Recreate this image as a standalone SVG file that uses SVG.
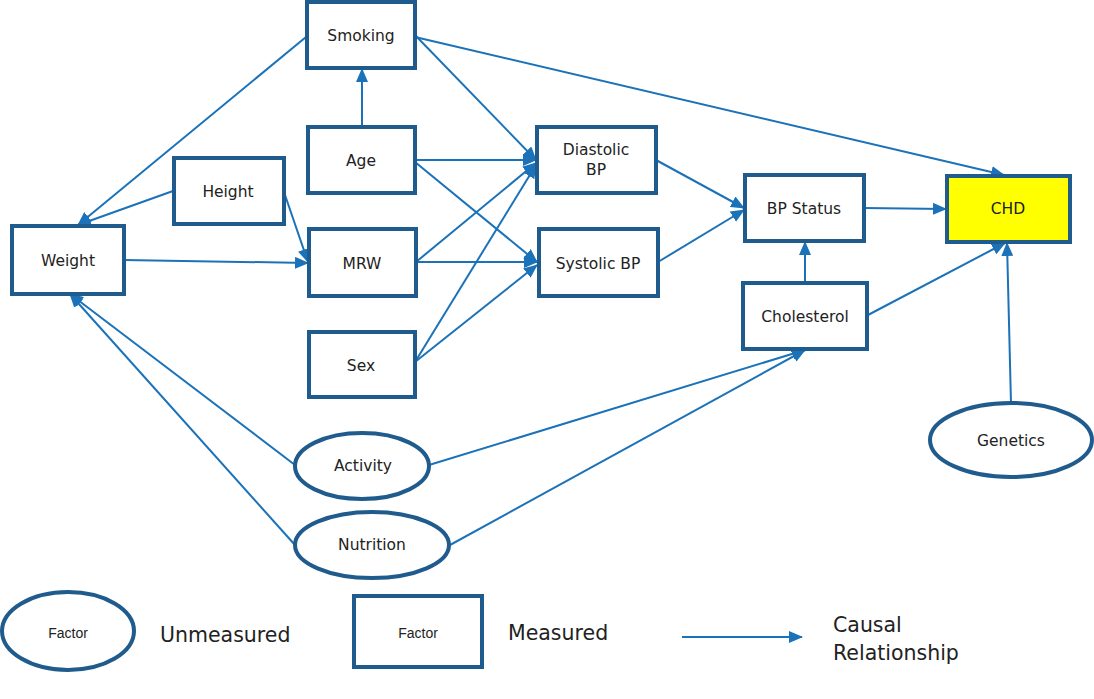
<svg xmlns="http://www.w3.org/2000/svg" width="1094" height="699" viewBox="0 0 1094 699">
<defs>
<marker id="ah" markerUnits="userSpaceOnUse" markerWidth="14" markerHeight="12" refX="13" refY="6" orient="auto">
<path d="M0,0 L14,6 L0,12 Z" fill="#1B72B8"/>
</marker>
<style>
.n{fill:#fff;stroke:#1F5B8C;stroke-width:4}
.e{fill:#fff;stroke:#1F5B8C;stroke-width:4}
.c{stroke:#1B72B8;stroke-width:2;fill:none;marker-end:url(#ah)}
.t{font-family:"DejaVu Sans","Liberation Sans",Arial,sans-serif;font-size:15.5px;fill:#222;text-anchor:middle;dominant-baseline:central}
.lg{font-family:"DejaVu Sans","Liberation Sans",Arial,sans-serif;font-size:20.5px;fill:#222}
.f{font-family:"Liberation Sans",Arial,sans-serif;font-size:14px;fill:#222;text-anchor:middle;dominant-baseline:central}
</style>
</defs>
<rect width="1094" height="699" fill="#fff"/>
<g id="connectors">
<path class="c" d="M306,37 L78,225"/>
<path class="c" d="M173,191 L78,225"/>
<path class="c" d="M124,260 L308,263"/>
<path class="c" d="M285,195 L308,262"/>
<path class="c" d="M362,127 L362,69"/>
<path class="c" d="M415,35 L536,160"/>
<path class="c" d="M415,37 L1004,175"/>
<path class="c" d="M415,160 L536,160"/>
<path class="c" d="M415,162 L537,262"/>
<path class="c" d="M416,262 L536,163"/>
<path class="c" d="M416,262 L537,262"/>
<path class="c" d="M415,362 L536,165"/>
<path class="c" d="M415,362 L537,265"/>
<path class="c" d="M656,160 L744,208"/>
<path class="c" d="M658,262 L744,210"/>
<path class="c" d="M864,208 L946,209"/>
<path class="c" d="M805,283 L805,242"/>
<path class="c" d="M868,315 L1005,243"/>
<path class="c" d="M1011,403 L1007,243"/>
<path class="c" d="M295,465 L70,294"/>
<path class="c" d="M295,545 L70,294"/>
<path class="c" d="M429,465 L805,350"/>
<path class="c" d="M450,545 L805,350"/>
</g>
<g id="smoking"><rect class="n" x="307" y="2" width="108" height="66"/><text class="t" x="361" y="36">Smoking</text></g>
<g id="age"><rect class="n" x="308" y="127" width="107" height="66"/><text class="t" x="361" y="161">Age</text></g>
<g id="height"><rect class="n" x="174" y="158" width="110" height="66"/><text class="t" x="228" y="192">Height</text></g>
<g id="weight"><rect class="n" x="12" y="226" width="112" height="68"/><text class="t" x="68" y="261">Weight</text></g>
<g id="mrw"><rect class="n" x="309" y="229" width="107" height="67"/><text class="t" x="362" y="264">MRW</text></g>
<g id="sex"><rect class="n" x="309" y="332" width="106" height="65"/><text class="t" x="361" y="366">Sex</text></g>
<g id="diastolic"><rect class="n" x="537" y="127" width="119" height="66"/><text class="t" x="596" y="150">Diastolic</text><text class="t" x="596" y="170">BP</text></g>
<g id="systolic"><rect class="n" x="539" y="229" width="119" height="67"/><text class="t" x="598" y="264">Systolic BP</text></g>
<g id="bpstatus"><rect class="n" x="745" y="175" width="119" height="66"/><text class="t" x="804" y="209">BP Status</text></g>
<g id="chd"><rect class="n" x="947" y="176" width="123" height="66" style="fill:#FFFF00"/><text class="t" x="1008" y="209">CHD</text></g>
<g id="cholesterol"><rect class="n" x="743" y="283" width="124" height="66"/><text class="t" x="805" y="317">Cholesterol</text></g>
<g id="activity"><ellipse class="e" cx="362" cy="466" rx="67" ry="33"/><text class="t" x="363" y="466">Activity</text></g>
<g id="nutrition"><ellipse class="e" cx="372" cy="545" rx="77" ry="33"/><text class="t" x="372" y="545">Nutrition</text></g>
<g id="genetics"><ellipse class="e" cx="1011" cy="440" rx="81" ry="37"/><text class="t" x="1011" y="441">Genetics</text></g>
<g id="legend">
<ellipse class="e" cx="68" cy="631" rx="66" ry="39"/>
<text class="f" x="68" y="633">Factor</text>
<text class="lg" x="160" y="642">Unmeasured</text>
<rect class="n" x="354" y="596" width="128" height="71"/>
<text class="f" x="418" y="633">Factor</text>
<text class="lg" x="508" y="640">Measured</text>
<path class="c" d="M682,637 L802,637"/>
<text class="lg" x="833" y="632">Causal</text>
<text class="lg" x="833" y="660">Relationship</text>
</g>
</svg>
